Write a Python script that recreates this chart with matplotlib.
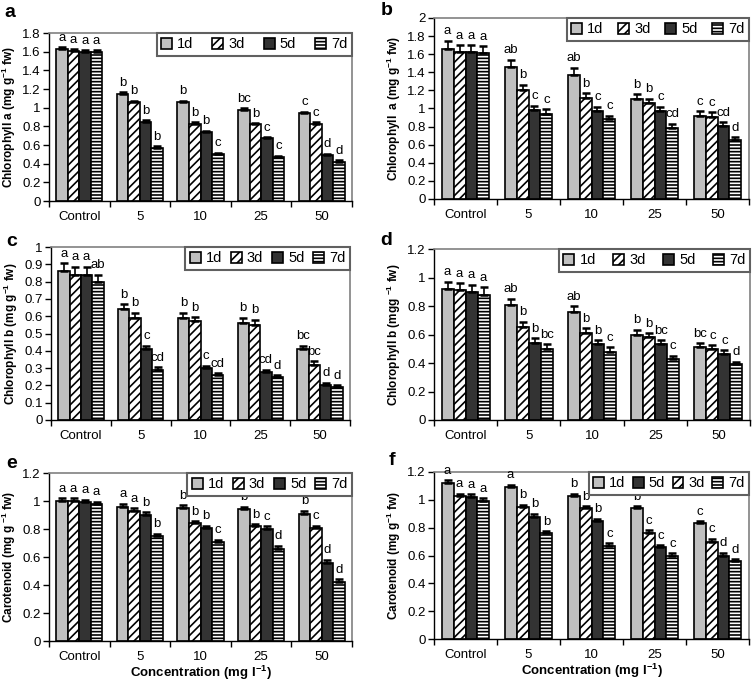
import matplotlib
matplotlib.use('Agg')
import matplotlib.pyplot as plt
import numpy as np
from matplotlib.ticker import FuncFormatter, FixedLocator

plt.rcParams['font.family'] = ['Liberation Sans', 'DejaVu Sans']
plt.rcParams['mathtext.fontset'] = 'custom'
plt.rcParams['mathtext.rm'] = 'Liberation Sans'
plt.rcParams['mathtext.bf'] = 'Liberation Sans:bold'
plt.rcParams['hatch.linewidth'] = 1.2

# ---------------- data ----------------
categories = ['Control', '5', '10', '25', '50']
series = ['1d', '3d', '5d', '7d']

# panel a - Chlorophyll a
a_1d = [1.63, 1.15, 1.06, 0.98, 0.94]
a_3d = [1.61, 1.06, 0.83, 0.82, 0.83]
a_5d = [1.60, 0.85, 0.74, 0.67, 0.49]
a_7d = [1.60, 0.57, 0.50, 0.47, 0.42]
a_err_1d = [0.015, 0.015, 0.015, 0.015, 0.015]
a_err_3d = [0.015, 0.015, 0.015, 0.015, 0.015]
a_err_5d = [0.015, 0.015, 0.015, 0.015, 0.015]
a_err_7d = [0.015, 0.015, 0.015, 0.015, 0.015]
a_let_1d = ['a', 'b', 'b', 'bc', 'c']
a_let_3d = ['a', 'b', 'b', 'b', 'c']
a_let_5d = ['a', 'b', 'b', 'c', 'd']
a_let_7d = ['a', 'b', 'c', 'c', 'd']

# panel b - Chlorophyll a
b_1d = [1.66, 1.46, 1.37, 1.10, 0.92]
b_3d = [1.62, 1.20, 1.12, 1.06, 0.91]
b_5d = [1.62, 0.98, 0.97, 0.97, 0.81]
b_7d = [1.61, 0.94, 0.88, 0.79, 0.65]
b_err_1d = [0.09, 0.08, 0.08, 0.06, 0.05]
b_err_3d = [0.08, 0.06, 0.05, 0.05, 0.05]
b_err_5d = [0.08, 0.05, 0.05, 0.05, 0.04]
b_err_7d = [0.08, 0.05, 0.04, 0.04, 0.03]
b_let_1d = ['a', 'ab', 'ab', 'b', 'c']
b_let_3d = ['a', 'b', 'b', 'b', 'c']
b_let_5d = ['a', 'c', 'c', 'c', 'cd']
b_let_7d = ['a', 'c', 'c', 'cd', 'd']

# panel c - Chlorophyll b
c_1d = [0.86, 0.64, 0.59, 0.56, 0.41]
c_3d = [0.84, 0.59, 0.57, 0.55, 0.32]
c_5d = [0.84, 0.41, 0.30, 0.28, 0.205]
c_7d = [0.80, 0.29, 0.26, 0.25, 0.19]
c_err_1d = [0.045, 0.03, 0.03, 0.03, 0.02]
c_err_3d = [0.045, 0.03, 0.025, 0.03, 0.02]
c_err_5d = [0.045, 0.02, 0.015, 0.01, 0.01]
c_err_7d = [0.04, 0.015, 0.01, 0.01, 0.01]
c_let_1d = ['a', 'b', 'b', 'b', 'bc']
c_let_3d = ['a', 'b', 'b', 'b', 'bc']
c_let_5d = ['a', 'c', 'c', 'cd', 'd']
c_let_7d = ['ab', 'cd', 'cd', 'd', 'd']

# panel d - Chlorophyll b
d_1d = [0.92, 0.81, 0.76, 0.60, 0.51]
d_3d = [0.91, 0.65, 0.61, 0.58, 0.50]
d_5d = [0.90, 0.54, 0.53, 0.53, 0.46]
d_7d = [0.88, 0.50, 0.48, 0.43, 0.39]
d_err_1d = [0.05, 0.04, 0.04, 0.035, 0.03]
d_err_3d = [0.05, 0.04, 0.035, 0.03, 0.025]
d_err_5d = [0.05, 0.035, 0.03, 0.03, 0.03]
d_err_7d = [0.05, 0.03, 0.03, 0.02, 0.02]
d_let_1d = ['a', 'ab', 'ab', 'b', 'bc']
d_let_3d = ['a', 'b', 'b', 'b', 'c']
d_let_5d = ['a', 'b', 'b', 'bc', 'c']
d_let_7d = ['a', 'bc', 'c', 'c', 'd']

# panel e - Carotenoid
e_1d = [1.00, 0.96, 0.95, 0.94, 0.91]
e_3d = [1.00, 0.93, 0.84, 0.82, 0.81]
e_5d = [0.99, 0.90, 0.81, 0.80, 0.56]
e_7d = [0.98, 0.75, 0.71, 0.66, 0.42]
e_err_1d = [0.02, 0.02, 0.02, 0.02, 0.02]
e_err_3d = [0.02, 0.02, 0.015, 0.015, 0.015]
e_err_5d = [0.02, 0.02, 0.015, 0.02, 0.02]
e_err_7d = [0.015, 0.015, 0.015, 0.02, 0.02]
e_let_1d = ['a', 'a', 'b', 'b', 'b']
e_let_3d = ['a', 'a', 'b', 'b', 'c']
e_let_5d = ['a', 'b', 'b', 'c', 'd']
e_let_7d = ['a', 'b', 'c', 'd', 'd']

# panel f - Carotenoid
f_1d = [1.12, 1.09, 1.03, 0.94, 0.83]
f_3d = [1.03, 0.95, 0.94, 0.76, 0.70]
f_5d = [1.02, 0.88, 0.85, 0.66, 0.60]
f_7d = [0.99, 0.76, 0.67, 0.60, 0.56]
f_err_1d = [0.02, 0.02, 0.015, 0.015, 0.015]
f_err_3d = [0.015, 0.015, 0.015, 0.02, 0.02]
f_err_5d = [0.02, 0.02, 0.015, 0.015, 0.02]
f_err_7d = [0.02, 0.015, 0.02, 0.015, 0.015]
f_let_1d = ['a', 'a', 'b', 'b', 'c']
f_let_3d = ['a', 'b', 'b', 'c', 'c']
f_let_5d = ['a', 'b', 'b', 'c', 'd']
f_let_7d = ['a', 'b', 'c', 'c', 'd']

# ---------------- styling ----------------
bar_styles = [
    dict(facecolor='#c0c0c0', hatch=None),
    dict(facecolor='white', hatch='////'),
    dict(facecolor='#333333', hatch=None),
    dict(facecolor='white', hatch='-----'),
]

W, H = 754, 685
fig = plt.figure(figsize=(W / 100, H / 100), dpi=100)


def add_axes_px(l, t, r, b):
    return fig.add_axes([l / W, 1 - b / H, (r - l) / W, (b - t) / H])


def fmt(v, pos):
    return ('%g' % round(v, 2))


def panel(ax, vals, errs, lets, ymax, ystep, ylabel, legend_order=(0, 1, 2, 3),
          colspacing=1.0, xlabel=None):
    x = np.arange(len(categories))
    w = 0.19
    offs = [-1.5 * w, -0.5 * w, 0.5 * w, 1.5 * w]
    handles = []
    for i in range(4):
        bars = ax.bar(x + offs[i], vals[i], width=w, edgecolor='black',
                      linewidth=1.2, label=series[i], zorder=2, **bar_styles[i])
        handles.append(bars)
        ax.errorbar(x + offs[i], vals[i],
                    yerr=[np.zeros(len(vals[i])), errs[i]], fmt='none',
                    ecolor='black', elinewidth=1.2, capsize=2.8, capthick=1.8,
                    zorder=3)
        for j in range(len(categories)):
            ax.annotate(lets[i][j], (x[j] + offs[i], vals[i][j] + errs[i][j]),
                        xytext=(0, 2.5), textcoords='offset points',
                        ha='center', va='bottom', fontsize=9.5, zorder=3)
    ax.set_xlim(-0.5, len(categories) - 0.5)
    ax.set_ylim(0, ymax)
    ax.set_xticks(x)
    ax.set_xticklabels(categories, fontsize=9.5)
    ax.tick_params(axis='x', which='major', length=0, pad=7)
    ax.xaxis.set_minor_locator(FixedLocator(np.arange(-0.5, len(categories), 1.0)))
    ax.tick_params(axis='x', which='minor', length=4, width=1, direction='out')
    ax.set_yticks(np.arange(0, ymax + 1e-9, ystep))
    ax.yaxis.set_major_formatter(FuncFormatter(fmt))
    ax.tick_params(axis='y', length=4, width=1, direction='out', labelsize=9.5, pad=2)
    for s in ['left', 'bottom']:
        ax.spines[s].set_color('black')
        ax.spines[s].set_linewidth(1.0)
    for s in ['top', 'right']:
        ax.spines[s].set_color('#808080')
        ax.spines[s].set_linewidth(1.2)
    ax.set_ylabel(ylabel, fontsize=8.5, fontweight='bold', labelpad=3)
    if xlabel:
        ax.set_xlabel(xlabel, fontsize=9.5, fontweight='bold', labelpad=1)
    hs = [handles[k] for k in legend_order]
    ls = [series[k] for k in legend_order]
    leg = ax.legend(hs, ls, loc='upper right', ncol=4, borderaxespad=0,
                    fancybox=False, framealpha=1, edgecolor='#606060',
                    fontsize=10.5, handlelength=0.75, handleheight=0.75,
                    handletextpad=0.35, columnspacing=colspacing, borderpad=0.3)
    leg.get_frame().set_linewidth(1.5)
    leg.set_zorder(10)


ax_a = add_axes_px(49, 33, 352, 201)
panel(ax_a, [a_1d, a_3d, a_5d, a_7d], [a_err_1d, a_err_3d, a_err_5d, a_err_7d],
      [a_let_1d, a_let_3d, a_let_5d, a_let_7d], 1.8, 0.2,
      r'Chlorophyll a (mg g$^{\mathbf{-1}}$ fw)', colspacing=1.3)

ax_b = add_axes_px(434, 18, 749, 199)
panel(ax_b, [b_1d, b_3d, b_5d, b_7d], [b_err_1d, b_err_3d, b_err_5d, b_err_7d],
      [b_let_1d, b_let_3d, b_let_5d, b_let_7d], 2.0, 0.2,
      r'Chlorophyll  a (mg g$^{\mathbf{-1}}$ fw)', colspacing=1.0)

ax_c = add_axes_px(51, 247, 350, 420)
panel(ax_c, [c_1d, c_3d, c_5d, c_7d], [c_err_1d, c_err_3d, c_err_5d, c_err_7d],
      [c_let_1d, c_let_3d, c_let_5d, c_let_7d], 1.0, 0.1,
      r'Chlorophyll b (mg g$^{\mathbf{-1}}$ fw)', colspacing=0.6)

ax_d = add_axes_px(434, 249, 750, 420)
panel(ax_d, [d_1d, d_3d, d_5d, d_7d], [d_err_1d, d_err_3d, d_err_5d, d_err_7d],
      [d_let_1d, d_let_3d, d_let_5d, d_let_7d], 1.2, 0.2,
      r'Chlorophyll b (mgg $^{\mathbf{-1}}$ fw)', colspacing=1.2)

ax_e = add_axes_px(49, 473, 352, 641)
panel(ax_e, [e_1d, e_3d, e_5d, e_7d], [e_err_1d, e_err_3d, e_err_5d, e_err_7d],
      [e_let_1d, e_let_3d, e_let_5d, e_let_7d], 1.2, 0.2,
      r'Carotenoid (mg g $^{\mathbf{-1}}$ fw)', colspacing=0.6,
      xlabel=r'Concentration (mg l$^{\mathbf{-1}}$)')

ax_f = add_axes_px(434, 472, 749, 639)
panel(ax_f, [f_1d, f_3d, f_5d, f_7d], [f_err_1d, f_err_3d, f_err_5d, f_err_7d],
      [f_let_1d, f_let_3d, f_let_5d, f_let_7d], 1.2, 0.2,
      r'Carotenoid (mg g$^{\mathbf{-1}}$ fw)', legend_order=(0, 2, 1, 3),
      colspacing=0.5, xlabel=r'Concentration (mg l$^{\mathbf{-1}}$)')

# panel letters
for lab, xp, yp in [('a', 4, 4), ('b', 381, 2), ('c', 6, 233),
                    ('d', 380, 232), ('e', 6, 455), ('f', 389, 452)]:
    fig.text(xp / W, 1 - yp / H, lab, fontsize=14, fontweight='bold',
             ha='left', va='top')

fig.savefig('out.png', dpi=100)
